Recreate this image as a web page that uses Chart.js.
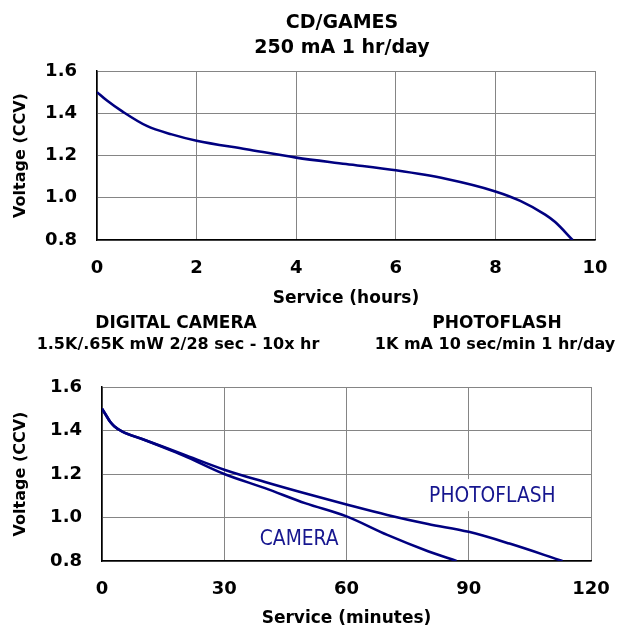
<!DOCTYPE html>
<html>
<head>
<meta charset="utf-8">
<script src="https://cdn.jsdelivr.net/npm/chart.js@4.4.1/dist/chart.umd.min.js"></script>
<style>
  html, body { margin: 0; padding: 0; background: #fff; }
  #gamesBox { position: absolute; left: 0; top: 0; width: 629px; height: 310px; }
  #serviceBox { position: absolute; left: 0; top: 310px; width: 629px; height: 322px; }
</style>
</head>
<body>
<div id="gamesBox"><canvas id="gamesChart"></canvas></div>
<div id="serviceBox"><canvas id="serviceChart"></canvas></div>
<script>
// CD/GAMES discharge, hours vs closed circuit voltage
var gamesHours = [0, 0.2, 0.5, 1, 1.5, 2, 3, 4, 5, 6, 7, 8, 8.5, 9, 9.2, 9.55];
var gamesVolts = [1.50, 1.46, 1.41, 1.34, 1.30, 1.27, 1.23, 1.19, 1.16, 1.13, 1.09, 1.03, 0.985, 0.92, 0.885, 0.80];

// digital camera, minutes vs voltage
var cameraMinutes = [0, 1, 2, 3, 5, 10, 20, 30, 40, 50, 60, 70, 80, 87];
var cameraVolts = [1.50, 1.47, 1.44, 1.42, 1.395, 1.36, 1.285, 1.20, 1.135, 1.065, 1.005, 0.92, 0.845, 0.80];

// photoflash, minutes vs voltage
var flashMinutes = [0, 1, 2, 3, 5, 10, 20, 30, 40, 50, 60, 70, 80, 90, 100, 113];
var flashVolts = [1.50, 1.47, 1.44, 1.42, 1.395, 1.36, 1.29, 1.22, 1.163, 1.11, 1.06, 1.012, 0.97, 0.934, 0.88, 0.80];

var gamesTitle = ['CD/GAMES', '250 mA 1 hr/day'];
var cameraTitle = ['DIGITAL CAMERA', '1.5K/.65K mW 2/28 sec - 10x hr'];
var flashTitle = ['PHOTOFLASH', '1K mA 10 sec/min 1 hr/day'];
var curveNames = ['PHOTOFLASH', 'CAMERA'];

var FONT = '"DejaVu Sans", Verdana, sans-serif';
var NAVY = '#000080';

function toPoints(xs, ys) {
  return xs.map(function (x, i) { return { x: x, y: ys[i] }; });
}

function lineSet(xs, ys) {
  return {
    data: toPoints(xs, ys),
    borderColor: NAVY,
    borderWidth: 2.6,
    pointRadius: 0,
    fill: false,
    cubicInterpolationMode: 'monotone'
  };
}

function axes(xMax, xStep, xTitle, yWidth, xHeight, titlePad) {
  return {
    x: {
      type: 'linear', min: 0, max: xMax,
      afterFit: function (s) { s.height = xHeight; },
      grid: { color: '#858585', lineWidth: 1, drawTicks: false },
      border: { color: '#000', width: 1.5 },
      ticks: { stepSize: xStep, padding: 18, color: '#000', font: { family: FONT, size: 18, weight: 'bold' } },
      title: { display: true, text: xTitle, color: '#000', padding: { top: 0, bottom: titlePad },
               font: { family: FONT, size: 17, weight: 'bold' } }
    },
    y: {
      min: 0.8, max: 1.6,
      afterFit: function (s) { s.width = yWidth; },
      grid: { color: '#858585', lineWidth: 1, drawTicks: false },
      border: { color: '#000', width: 1.5 },
      ticks: { stepSize: 0.2, padding: 20, color: '#000', font: { family: FONT, size: 18, weight: 'bold' },
               callback: function (v) { return v.toFixed(1); } },
      title: { display: true, text: 'Voltage (CCV)', color: '#000', padding: { top: 11, bottom: 0 },
               font: { family: FONT, size: 16, weight: 'bold' } }
    }
  };
}

// two-line heading centred over the plot of the upper chart
var gamesHeading = {
  id: 'gamesHeading',
  afterDraw: function (chart) {
    var ctx = chart.ctx;
    var cx = (chart.chartArea.left + chart.chartArea.right) / 2;
    ctx.save();
    ctx.fillStyle = '#000';
    ctx.textAlign = 'center';
    ctx.textBaseline = 'middle';
    ctx.font = 'bold 19px ' + FONT;
    ctx.fillText(gamesTitle[0], cx - 4, 23);
    ctx.fillText(gamesTitle[1], cx - 4, 48);
    ctx.restore();
  }
};

new Chart(document.getElementById('gamesChart'), {
  type: 'line',
  data: { datasets: [lineSet(gamesHours, gamesVolts)] },
  options: {
    responsive: true,
    maintainAspectRatio: false,
    animation: false,
    layout: { padding: { left: 0, right: 34, top: 71, bottom: 0 } },
    plugins: { legend: { display: false }, tooltip: { enabled: false } },
    scales: axes(10, 2, 'Service (hours)', 97, 70, 1)
  },
  plugins: [gamesHeading]
});

// the two headings over the lower chart and the names written on the curves
var lowerText = {
  id: 'lowerText',
  beforeDatasetsDraw: function (chart) {
    var ctx = chart.ctx;
    var xs = chart.scales.x, ys = chart.scales.y;
    var anchors = [[95.8, 1.103], [48.4, 0.903]];
    ctx.save();
    ctx.font = '22px ' + FONT;
    ctx.textAlign = 'center';
    ctx.textBaseline = 'middle';
    curveNames.forEach(function (name, i) {
      var px = xs.getPixelForValue(anchors[i][0]);
      var py = ys.getPixelForValue(anchors[i][1]);
      var w = ctx.measureText(name).width * 0.85;
      ctx.fillStyle = '#fff';
      ctx.fillRect(px - w / 2 - 3, py - 16, w + 6, 32);
      ctx.save();
      ctx.translate(px, py + 1);
      ctx.scale(0.85, 1);
      ctx.fillStyle = '#16168f';
      ctx.fillText(name, 0, 0);
      ctx.restore();
    });
    ctx.restore();
  },
  afterDraw: function (chart) {
    var ctx = chart.ctx;
    ctx.save();
    ctx.fillStyle = '#000';
    ctx.textAlign = 'center';
    ctx.textBaseline = 'middle';
    [[cameraTitle, 176, 178], [flashTitle, 497, 495]].forEach(function (b) {
      ctx.font = 'bold 17px ' + FONT;
      ctx.fillText(b[0][0], b[1], 14);
      ctx.font = 'bold 16px ' + FONT;
      ctx.fillText(b[0][1], b[2], 35);
    });
    ctx.restore();
  }
};

new Chart(document.getElementById('serviceChart'), {
  type: 'line',
  data: { datasets: [lineSet(cameraMinutes, cameraVolts), lineSet(flashMinutes, flashVolts)] },
  options: {
    responsive: true,
    maintainAspectRatio: false,
    animation: false,
    layout: { padding: { left: 0, right: 38, top: 77, bottom: 0 } },
    plugins: { legend: { display: false }, tooltip: { enabled: false } },
    scales: axes(120, 30, 'Service (minutes)', 102, 71, 3)
  },
  plugins: [lowerText]
});
</script>
</body>
</html>
